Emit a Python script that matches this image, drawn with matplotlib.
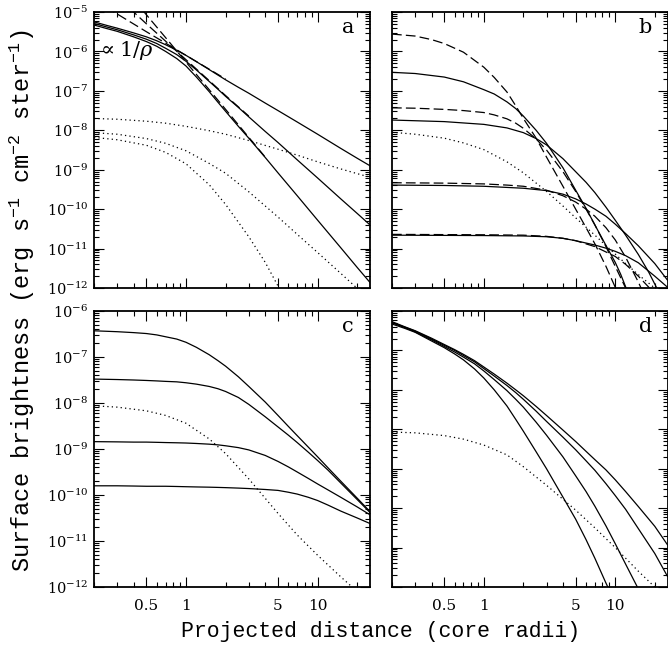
import numpy as np
import matplotlib
matplotlib.use('Agg')
import matplotlib.pyplot as plt
from matplotlib.ticker import FixedLocator, FixedFormatter, LogLocator, NullFormatter, LogFormatterSciNotation

plt.rcParams['font.family'] = ['DejaVu Serif']
plt.rcParams['mathtext.fontset'] = 'dejavuserif'
plt.rcParams['mathtext.rm'] = 'Liberation Mono'
plt.rcParams['mathtext.it'] = 'Liberation Mono'
plt.rcParams['lines.scale_dashes'] = False

# projected distance grids (core radii); values are log10 surface brightness
rho_a = [0.2, 0.25, 0.3, 0.4, 0.5, 0.6, 0.7, 0.85, 1, 1.2, 1.5, 1.75, 2, 2.5, 3, 4, 5, 7, 10, 15, 20, 25]
rho_c = [0.2, 0.3, 0.4, 0.5, 0.6, 0.7, 0.85, 1, 1.2, 1.5, 1.75, 2, 2.5, 3, 4, 5, 6, 7, 8.5, 10, 12, 15, 20, 25]
rho_d = [0.2, 0.25, 0.3, 0.4, 0.5, 0.6, 0.7, 0.85, 1, 1.2, 1.5, 1.75, 2, 2.5, 3, 4, 5, 6, 7, 8.5, 10, 12, 15, 20, 25]
rho_dot = [0.2, 0.3, 0.5, 0.7, 1, 1.5, 2, 3, 5, 7, 10, 15, 20, 25]

# ---- panel a ----
a_solid1 = [-5.25, -5.34, -5.41, -5.53, -5.63, -5.73, -5.83, -5.97, -6.10, -6.26, -6.46, -6.60, -6.72, -6.91, -7.06, -7.31, -7.50, -7.79, -8.10, -8.46, -8.71, -8.90]
a_solid2 = [-5.29, -5.38, -5.45, -5.58, -5.69, -5.80, -5.92, -6.08, -6.25, -6.47, -6.76, -6.96, -7.14, -7.42, -7.66, -8.03, -8.31, -8.75, -9.21, -9.74, -10.11, -10.40]
a_solid3 = [-5.33, -5.42, -5.49, -5.63, -5.75, -5.87, -6.00, -6.18, -6.37, -6.65, -7.02, -7.29, -7.52, -7.90, -8.20, -8.69, -9.08, -9.66, -10.28, -10.98, -11.48, -11.86]
a_dash1_rho = [0.2, 0.3, 0.5, 0.7, 1, 1.5, 2]
a_dash1 = [-4.70, -5.05, -5.50, -5.79, -6.10, -6.45, -6.70]
a_dash2_rho = [0.3, 0.4, 0.5, 0.7, 1, 1.5, 2, 3]
a_dash2 = [-4.63, -5.00, -5.30, -5.74, -6.21, -6.74, -7.12, -7.64]
a_dash3_rho = [0.4, 0.5, 0.7, 1, 1.5, 2, 3, 4]
a_dash3 = [-4.68, -5.07, -5.65, -6.27, -6.97, -7.47, -8.18, -8.68]
a_dot1 = [-7.70, -7.72, -7.77, -7.82, -7.90, -8.01, -8.10, -8.26, -8.48, -8.63, -8.80, -8.98, -9.10, -9.19]
a_dot2 = [-8.06, -8.10, -8.21, -8.33, -8.52, -8.84, -9.09, -9.56, -10.20, -10.64, -11.10, -11.63, -12.01, -12.30]
a_dot3_rho = [0.2, 0.3, 0.5, 0.7, 1, 1.5, 2, 3, 4, 5, 6]
a_dot3 = [-8.18, -8.24, -8.38, -8.56, -8.85, -9.38, -9.88, -10.70, -11.35, -11.95, -12.40]

# ---- panel b ----
b_solid1_rho = [0.2, 0.3, 0.5, 0.7, 1, 1.2, 1.5, 1.75, 2, 2.5, 3, 4, 5, 6, 7, 8.5, 10, 11, 12, 13]
b_solid1 = [-6.53, -6.56, -6.65, -6.77, -6.97, -7.08, -7.28, -7.45, -7.64, -8.00, -8.33, -8.95, -9.52, -9.98, -10.40, -10.92, -11.35, -11.65, -11.97, -12.30]
b_solid2_rho = [0.2, 0.5, 1, 1.5, 2, 2.5, 3, 4, 5, 6, 7, 8.5, 10, 12, 15, 18, 20, 23]
b_solid2 = [-7.74, -7.78, -7.85, -7.94, -8.06, -8.21, -8.37, -8.72, -9.05, -9.32, -9.58, -9.95, -10.28, -10.66, -11.15, -11.60, -11.90, -12.30]
b_solid3_rho = [0.2, 0.5, 1, 2, 3, 4, 5, 6, 7, 8.5, 10, 12, 15, 20, 25]
b_solid3 = [-9.39, -9.40, -9.42, -9.47, -9.53, -9.62, -9.74, -9.87, -10.00, -10.18, -10.38, -10.62, -10.93, -11.38, -11.80]
b_solid4_rho = [0.2, 1, 2, 3, 4, 5, 6, 7, 8.5, 10, 12, 15, 20, 25]
b_solid4 = [-10.66, -10.67, -10.68, -10.70, -10.74, -10.80, -10.86, -10.91, -10.99, -11.07, -11.18, -11.36, -11.70, -11.98]
b_dash1_rho = [0.2, 0.3, 0.4, 0.5, 0.7, 1, 1.2, 1.5, 1.75, 2, 2.5, 3, 4, 5, 6, 7, 8.5, 10, 11]
b_dash1 = [-5.56, -5.61, -5.70, -5.80, -6.02, -6.40, -6.66, -7.03, -7.38, -7.70, -8.20, -8.68, -9.42, -10.00, -10.47, -10.88, -11.45, -11.98, -12.30]
b_dash2_rho = [0.2, 0.3, 0.5, 0.7, 1, 1.2, 1.5, 1.75, 2, 2.5, 3, 4, 5, 6, 7, 8.5, 10, 12, 13]
b_dash2 = [-7.43, -7.44, -7.47, -7.50, -7.55, -7.61, -7.71, -7.82, -7.95, -8.22, -8.50, -9.05, -9.55, -10.00, -10.40, -10.95, -11.45, -12.00, -12.30]
b_dash3_rho = [0.2, 0.5, 1, 1.5, 2, 3, 4, 5, 6, 7, 8.5, 10, 12, 15, 17]
b_dash3 = [-9.33, -9.34, -9.36, -9.39, -9.42, -9.52, -9.66, -9.82, -10.00, -10.18, -10.47, -10.78, -11.22, -11.85, -12.25]
b_dash4_rho = [0.2, 1, 2, 3, 4, 5, 7, 10, 12, 15, 18, 20]
b_dash4 = [-10.64, -10.65, -10.66, -10.69, -10.74, -10.80, -10.95, -11.20, -11.40, -11.70, -11.98, -12.20]
b_dot_rho = [0.2, 0.3, 0.5, 0.7, 1, 1.5, 2, 3, 4, 5, 7, 9, 12, 16, 20, 25]
b_dot = [-8.05, -8.10, -8.20, -8.32, -8.49, -8.80, -9.08, -9.55, -9.92, -10.22, -10.66, -11.00, -11.38, -11.74, -12.00, -12.30]

# ---- panel c ----
c_solid1 = [-6.43, -6.45, -6.47, -6.49, -6.52, -6.56, -6.61, -6.68, -6.79, -6.95, -7.08, -7.20, -7.43, -7.64, -7.98, -8.27, -8.51, -8.71, -8.96, -9.17, -9.41, -9.70, -10.07, -10.36]
c_solid2 = [-7.48, -7.49, -7.50, -7.51, -7.52, -7.53, -7.54, -7.56, -7.59, -7.64, -7.69, -7.75, -7.88, -8.03, -8.30, -8.52, -8.70, -8.86, -9.07, -9.25, -9.46, -9.74, -10.10, -10.38]
c_solid3 = [-8.84, -8.845, -8.85, -8.85, -8.855, -8.86, -8.865, -8.87, -8.88, -8.895, -8.91, -8.93, -8.97, -9.02, -9.14, -9.27, -9.39, -9.50, -9.64, -9.76, -9.89, -10.05, -10.26, -10.43]
c_solid4 = [-9.80, -9.80, -9.805, -9.81, -9.81, -9.81, -9.815, -9.82, -9.825, -9.83, -9.835, -9.84, -9.85, -9.86, -9.88, -9.90, -9.94, -9.98, -10.05, -10.12, -10.22, -10.35, -10.50, -10.62]
c_dot = [-8.06, -8.09, -8.17, -8.27, -8.44, -8.78, -9.10, -9.65, -10.40, -10.87, -11.31, -11.78, -12.10, -12.35]

# ---- panel d ----
d_solid1 = [-6.27, -6.40, -6.50, -6.69, -6.85, -6.98, -7.10, -7.26, -7.42, -7.60, -7.83, -8.00, -8.15, -8.42, -8.65, -9.02, -9.31, -9.56, -9.77, -10.03, -10.28, -10.58, -10.96, -11.46, -11.93]
d_solid2 = [-6.29, -6.41, -6.51, -6.71, -6.87, -7.00, -7.13, -7.29, -7.46, -7.65, -7.89, -8.07, -8.24, -8.54, -8.80, -9.20, -9.52, -9.80, -10.04, -10.38, -10.68, -11.03, -11.52, -12.15, -12.73]
d_solid3 = [-6.30, -6.42, -6.53, -6.73, -6.90, -7.04, -7.17, -7.34, -7.52, -7.74, -8.02, -8.24, -8.44, -8.82, -9.15, -9.70, -10.18, -10.58, -10.95, -11.45, -11.90, -12.42, -13.05]
d_solid4 = [-6.33, -6.44, -6.54, -6.76, -6.93, -7.09, -7.24, -7.47, -7.70, -8.00, -8.41, -8.75, -9.05, -9.57, -10.00, -10.72, -11.28, -11.80, -12.27, -12.90, -13.40]
d_dot = [-9.07, -9.09, -9.16, -9.25, -9.40, -9.65, -9.95, -10.42, -11.05, -11.50, -12.00, -12.60, -13.00, -13.30]

x_major = [0.5, 1, 5, 10]
x_major_labels = ['0.5', '1', '5', '10']
x_minor = [0.2, 0.3, 0.4, 0.6, 0.7, 0.8, 0.9, 2, 3, 4, 6, 7, 8, 9, 20]

W, H = 668, 652
fig = plt.figure(figsize=(W / 100, H / 100), dpi=100)

def box(l, r, t, b):
    return [l / W, 1 - b / H, (r - l) / W, (b - t) / H]

axa = fig.add_axes(box(94, 370, 12, 288))
axb = fig.add_axes(box(392, 667.5, 12, 288))
axc = fig.add_axes(box(94, 370, 311, 587))
axd = fig.add_axes(box(392, 667.5, 311, 587))

LW = 0.9
DASH = (7, 3)
DOT = (0.9, 2.3)

def curve(ax, x, v, style):
    y = 10.0 ** np.asarray(v, dtype=float)
    x = np.asarray(x[:len(v)], dtype=float)
    if style == 'solid':
        ax.plot(x, y, color='black', lw=LW)
    elif style == 'dash':
        ax.plot(x, y, color='black', lw=LW, linestyle=(0, DASH))
    else:
        ax.plot(x, y, color='black', lw=LW, linestyle=(0, DOT))

for v in (a_solid1, a_solid2, a_solid3):
    curve(axa, rho_a, v, 'solid')
curve(axa, a_dash1_rho, a_dash1, 'dash')
curve(axa, a_dash2_rho, a_dash2, 'dash')
curve(axa, a_dash3_rho, a_dash3, 'dash')
curve(axa, rho_dot, a_dot1, 'dot')
curve(axa, rho_dot, a_dot2, 'dot')
curve(axa, a_dot3_rho, a_dot3, 'dot')

curve(axb, b_solid1_rho, b_solid1, 'solid')
curve(axb, b_solid2_rho, b_solid2, 'solid')
curve(axb, b_solid3_rho, b_solid3, 'solid')
curve(axb, b_solid4_rho, b_solid4, 'solid')
curve(axb, b_dash1_rho, b_dash1, 'dash')
curve(axb, b_dash2_rho, b_dash2, 'dash')
curve(axb, b_dash3_rho, b_dash3, 'dash')
curve(axb, b_dash4_rho, b_dash4, 'dash')
curve(axb, b_dot_rho, b_dot, 'dot')

for v in (c_solid1, c_solid2, c_solid3, c_solid4):
    curve(axc, rho_c, v, 'solid')
curve(axc, rho_dot, c_dot, 'dot')

for v in (d_solid1, d_solid2, d_solid3, d_solid4):
    curve(axd, rho_d, v, 'solid')
curve(axd, rho_dot, d_dot, 'dot')

ylims = {axa: (1e-12, 1e-5), axb: (1e-12, 1e-5), axc: (1e-12, 1e-6), axd: (1e-13, 1e-6)}
labels = {axa: 'a', axb: 'b', axc: 'c', axd: 'd'}

for ax in (axa, axb, axc, axd):
    ax.set_xscale('log')
    ax.set_yscale('log')
    ax.set_xlim(0.2, 25)
    ax.set_ylim(*ylims[ax])
    ax.xaxis.set_major_locator(FixedLocator(x_major))
    ax.xaxis.set_minor_locator(FixedLocator(x_minor))
    ax.xaxis.set_minor_formatter(NullFormatter())
    ax.yaxis.set_major_locator(LogLocator(base=10, numticks=20))
    ax.yaxis.set_minor_locator(LogLocator(base=10, subs=np.arange(2, 10), numticks=20))
    ax.yaxis.set_minor_formatter(NullFormatter())
    ax.tick_params(which='both', direction='in', top=True, right=True, width=0.8, colors='black')
    ax.tick_params(which='major', length=7)
    ax.tick_params(which='minor', length=3.5)
    for s in ax.spines.values():
        s.set_linewidth(1.3)
    ax.text(0.92, 0.945, labels[ax], transform=ax.transAxes, fontsize=15,
            ha='center', va='center')

for ax in (axa, axb):
    ax.xaxis.set_major_formatter(NullFormatter())
for ax in (axc, axd):
    ax.xaxis.set_major_formatter(FixedFormatter(x_major_labels))
    ax.tick_params(axis='x', labelsize=11, pad=9)
for ax in (axb, axd):
    ax.yaxis.set_major_formatter(NullFormatter())
for ax in (axa, axc):
    ax.yaxis.set_major_formatter(LogFormatterSciNotation())
    ax.tick_params(axis='y', labelsize=10.5, pad=4)

axa.text(0.012, 0.862, r'$\propto 1/\rho$', transform=axa.transAxes, fontsize=15,
         ha='left', va='center')

fig.text(381 / W, 1 - 632 / H, 'Projected distance (core radii)', fontsize=15.5,
         family='Liberation Mono', ha='center', va='center')
fig.text(22 / W, 1 - 301 / H,
         r'Surface brightness (erg s$^{-1}$ cm$^{-2}$ ster$^{-1}$)',
         fontsize=17, family='Liberation Mono', math_fontfamily='custom',
         rotation=90, ha='center', va='center')

fig.savefig('out.png', dpi=100)
